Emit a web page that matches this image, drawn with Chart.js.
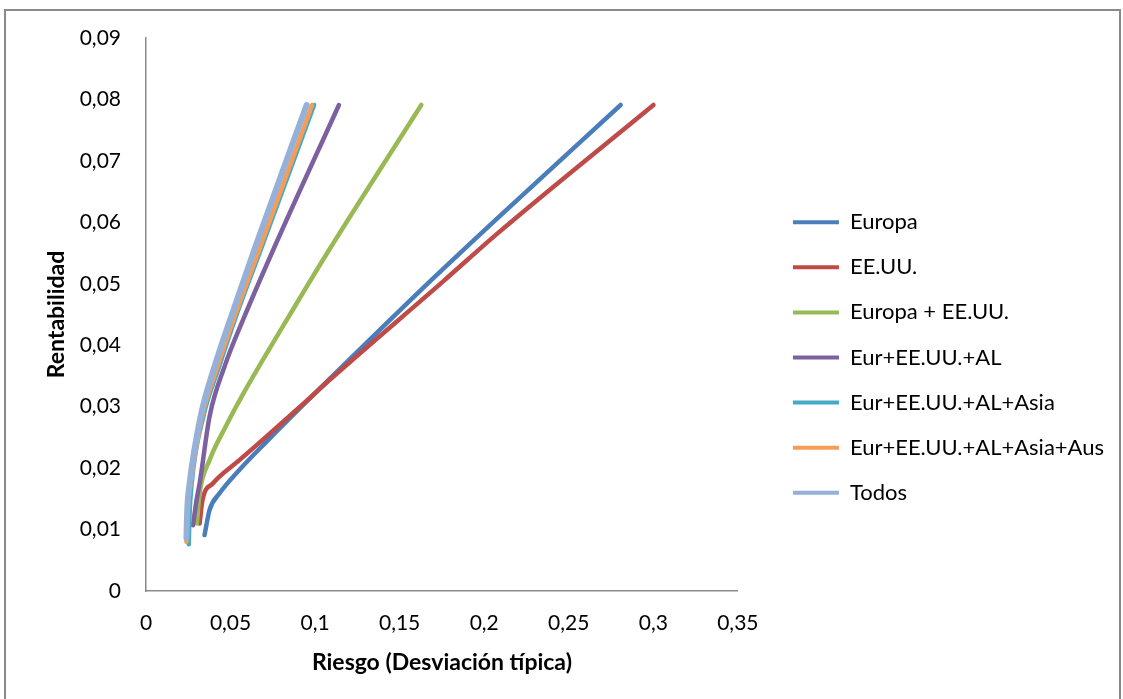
<!DOCTYPE html>
<html lang="es">
<head>
<meta charset="UTF-8" />
<title>Rentabilidad frente a riesgo</title>
<script src="https://cdn.jsdelivr.net/npm/chart.js@4.4.0/dist/chart.umd.min.js"></script>
<style>
  body { margin: 0; background: #fff; }
  /* marco gris alrededor del gráfico */
  .marco { position: absolute; left: 4px; top: 9px; width: 1113px; height: 700px; border: 2px solid #8a8a8a; border-bottom: none; }
  canvas { position: absolute; left: 0; top: 0; }
</style>
</head>
<body>
<div class="marco"></div>
<canvas id="grafico" width="1123" height="699"></canvas>
<script>
// Riesgo (x) y rentabilidad (y) de cada frontera
const europaRiesgo = [0.0346, 0.0376, 0.0435, 0.0552, 0.0709, 0.0904, 0.1100, 0.1687, 0.2079, 0.2807];
const europaRent   = [0.0091, 0.0132, 0.0159, 0.0197, 0.0242, 0.0296, 0.0349, 0.0506, 0.0607, 0.0791];

const eeuuRiesgo = [0.0317, 0.0334, 0.0395, 0.0552, 0.0748, 0.0944, 0.1100, 0.1766, 0.2079, 0.3001];
const eeuuRent   = [0.0110, 0.0148, 0.0175, 0.0213, 0.0260, 0.0308, 0.0347, 0.0506, 0.0582, 0.0791];

const eurEeuuRiesgo = [0.0301, 0.0317, 0.0376, 0.0470, 0.0577, 0.0691, 0.0832, 0.1058, 0.1628];
const eurEeuuRent   = [0.0110, 0.0159, 0.0213, 0.0267, 0.0322, 0.0376, 0.0441, 0.0544, 0.0791];

const alRiesgo = [0.0278, 0.0299, 0.0317, 0.0376, 0.0464, 0.0581, 0.0752, 0.1141];
const alRent   = [0.0107, 0.0148, 0.0175, 0.0284, 0.0365, 0.0446, 0.0555, 0.0791];

const asiaRiesgo = [0.0253, 0.0257, 0.0270, 0.0339, 0.0432, 0.0531, 0.0678, 0.0994];
const asiaRent   = [0.0076, 0.0120, 0.0175, 0.0284, 0.0365, 0.0446, 0.0555, 0.0791];

const ausRiesgo = [0.0239, 0.0246, 0.0264, 0.0332, 0.0423, 0.0523, 0.0669, 0.0982];
const ausRent   = [0.0080, 0.0132, 0.0175, 0.0284, 0.0365, 0.0446, 0.0555, 0.0791];

const todosRiesgo = [0.0239, 0.0244, 0.0258, 0.0323, 0.0405, 0.0503, 0.0640, 0.0950];
const todosRent   = [0.0086, 0.0132, 0.0175, 0.0284, 0.0365, 0.0446, 0.0555, 0.0791];

const series = ['Europa', 'EE.UU.', 'Europa + EE.UU.', 'Eur+EE.UU.+AL', 'Eur+EE.UU.+AL+Asia', 'Eur+EE.UU.+AL+Asia+Aus', 'Todos'];
const colores = ['#4A7EBB', '#BE4B48', '#98B954', '#7D60A0', '#46AAC5', '#F59D56', '#95B1D9'];
const riesgos = [europaRiesgo, eeuuRiesgo, eurEeuuRiesgo, alRiesgo, asiaRiesgo, ausRiesgo, todosRiesgo];
const rents = [europaRent, eeuuRent, eurEeuuRent, alRent, asiaRent, ausRent, todosRent];

const ejeX = [0, 0.05, 0.1, 0.15, 0.2, 0.25, 0.3, 0.35];
const ejeY = [0, 0.01, 0.02, 0.03, 0.04, 0.05, 0.06, 0.07, 0.08, 0.09];

const coma = (v) => String(Number(v.toFixed(2))).replace('.', ',');

const datasets = series.map((nombre, i) => ({
  label: nombre,
  data: riesgos[i].map((x, k) => ({ x: x, y: rents[i][k] })),
  showLine: true,
  borderColor: colores[i],
  backgroundColor: colores[i],
  borderWidth: i === 6 ? 6 : 4.5,
  borderCapStyle: 'round',
  borderJoinStyle: 'round',
  pointRadius: 0,
  cubicInterpolationMode: 'monotone',
  order: 6 - i // las últimas series quedan encima
}));

Chart.defaults.font.family = 'Lato';
Chart.defaults.color = '#000';

new Chart(document.getElementById('grafico'), {
  type: 'scatter',
  data: { datasets: datasets },
  options: {
    responsive: false,
    animation: false,
    devicePixelRatio: 1,
    layout: { padding: { top: 38, right: 9, bottom: 22, left: 0 } },
    scales: {
      x: {
        type: 'linear',
        min: 0,
        max: 0.35,
        afterBuildTicks: (s) => { s.ticks = ejeX.map(v => ({ value: v })); },
        afterFit: (s) => { s.height = 86; },
        grid: { display: false, drawTicks: false },
        border: { display: true, color: '#8a8a8a', width: 1.5 },
        ticks: { padding: 20, font: { size: 21 }, callback: (v) => coma(v), maxRotation: 0 },
        title: { display: true, text: 'Riesgo (Desviación típica)', font: { size: 23, weight: 'bold' }, padding: { top: 0, bottom: 1 } }
      },
      y: {
        type: 'linear',
        min: 0,
        max: 0.09,
        afterBuildTicks: (s) => { s.ticks = ejeY.map(v => ({ value: v })); },
        afterFit: (s) => { s.width = 146; },
        grid: { display: false, drawTicks: false },
        border: { display: true, color: '#8a8a8a', width: 1.5 },
        ticks: { padding: 25, font: { size: 21 }, callback: (v) => coma(v) },
        title: { display: true, text: 'Rentabilidad', font: { size: 23, weight: 'bold' }, padding: { top: 43, bottom: 0 } }
      },
      hueco: {
        axis: 'y',
        position: 'right',
        display: true,
        afterFit: (s) => { s.width = 32; },
        grid: { display: false, drawTicks: false },
        border: { display: false },
        ticks: { display: false }
      }
    },
    plugins: {
      tooltip: { enabled: false },
      legend: {
        position: 'right',
        maxWidth: 500,
        labels: {
          font: { size: 22 },
          boxWidth: 46,
          boxHeight: 4,
          padding: 23.1,
          sort: (a, b) => a.datasetIndex - b.datasetIndex,
          generateLabels: (chart) => chart.data.datasets.map((d, i) => ({
            text: d.label,
            fillStyle: d.borderColor,
            strokeStyle: d.borderColor,
            lineWidth: 0,
            datasetIndex: i
          }))
        }
      }
    }
  }
});
</script>
</body>
</html>
